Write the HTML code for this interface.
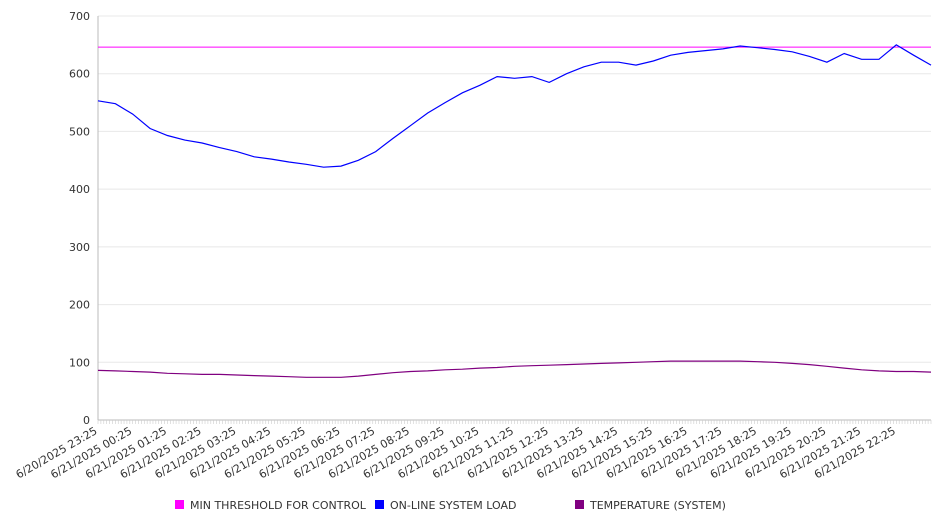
<!DOCTYPE html>
<html><head><meta charset="utf-8"><style>
body{margin:0;background:#fff;width:946px;height:526px;overflow:hidden;font-family:"DejaVu Sans","Liberation Sans",sans-serif;}
svg text{font-family:"DejaVu Sans","Liberation Sans",sans-serif;fill:#333;}
</style></head><body>
<svg id="chart" width="946" height="526" xmlns="http://www.w3.org/2000/svg">
<g id="grid"></g>
<g id="axes"></g>
<g id="series"></g>
<g id="legend"></g>
</svg>
<script>
const yTicks=[0,100,200,300,400,500,600,700];
const xLabels=["6/20/2025 23:25","6/21/2025 00:25","6/21/2025 01:25","6/21/2025 02:25","6/21/2025 03:25","6/21/2025 04:25","6/21/2025 05:25","6/21/2025 06:25","6/21/2025 07:25","6/21/2025 08:25","6/21/2025 09:25","6/21/2025 10:25","6/21/2025 11:25","6/21/2025 12:25","6/21/2025 13:25","6/21/2025 14:25","6/21/2025 15:25","6/21/2025 16:25","6/21/2025 17:25","6/21/2025 18:25","6/21/2025 19:25","6/21/2025 20:25","6/21/2025 21:25","6/21/2025 22:25"];
const threshold=646;
const loadValues=[553,548,530,505,493,485,480,472,465,456,452,447,443,438,440,450,465,488,510,532,550,567,580,595,592,595,585,600,612,620,620,615,622,632,637,640,643,648,645,642,638,630,620,635,625,625,650,632,615];
const tempValues=[86,85,84,83,81,80,79,79,78,77,76,75,74,74,74,76,79,82,84,85,87,88,90,91,93,94,95,96,97,98,99,100,101,102,102,102,102,102,101,100,98,96,93,90,87,85,84,84,83];
const legendNames=["MIN THRESHOLD FOR CONTROL","ON-LINE SYSTEM LOAD","TEMPERATURE (SYSTEM)"];
const legendColors=["#ff00ff","#0000ff","#800080"];

const NS="http://www.w3.org/2000/svg";
const X0=98,X1=931,Y0=420,Y1=16,YMAX=700;
const yScale=v=>Y0-(v/YMAX)*(Y0-Y1);
const xScale=(i,n)=>X0+i*(X1-X0)/(n-1);
function mk(tag,attrs,parent){const e=document.createElementNS(NS,tag);for(const k in attrs)e.setAttribute(k,attrs[k]);parent.appendChild(e);return e;}
const grid=document.getElementById('grid'),axes=document.getElementById('axes'),series=document.getElementById('series'),legend=document.getElementById('legend');
yTicks.forEach(t=>{
  const y=yScale(t);
  const l=mk('line',{x1:X0,x2:X1,y1:y,y2:y,stroke:t===0?'#bbb':'#e8e8e8','stroke-width':1},grid);
  
  
  const tx=mk('text',{x:90,y:y+4,'text-anchor':'end','font-size':11},axes);
  tx.textContent=t;
  
  
});
const ya=mk('line',{x1:X0,x2:X0,y1:Y1,y2:Y0,stroke:'#bbb'},axes);


const nMinor=288;
for(let i=0;i<=nMinor;i++){const x=X0+i*(X1-X0)/nMinor;const m=mk('line',{x1:x,x2:x,y1:Y0,y2:Y0+4,stroke:'#ccc','stroke-width':0.6},axes);

}
const hourW=(X1-X0)/24;
xLabels.forEach((s,i)=>{
  const x=X0+i*hourW, y=433;
  const t=mk('text',{x:x,y:y,'text-anchor':'end','font-size':11,transform:`rotate(-30 ${x} ${y})`},axes);
  t.textContent=s;
  
  
});
const th=mk('line',{x1:X0,x2:X1,y1:yScale(threshold),y2:yScale(threshold),stroke:'#ff00ff','stroke-width':1},series);


function path(vals,color,name){
  const d=vals.map((v,i)=>(i?'L':'M')+xScale(i,vals.length).toFixed(1)+','+yScale(v).toFixed(1)).join(' ');
  const p=mk('path',{d:d,fill:'none',stroke:color,'stroke-width':1.2},series);
  
  
}
path(loadValues,'#0000ff','system-load-line');
path(tempValues,'#800080','temperature-line');
const lx=[175,375,575];
legendNames.forEach((n,i)=>{
  const g=mk('g',{},legend);
  
  
  mk('rect',{x:lx[i],y:500,width:9,height:9,fill:legendColors[i]},g);
  const t=mk('text',{x:lx[i]+15,y:509,'font-size':11},g);
  t.textContent=n;
});
</script>
</body></html>
